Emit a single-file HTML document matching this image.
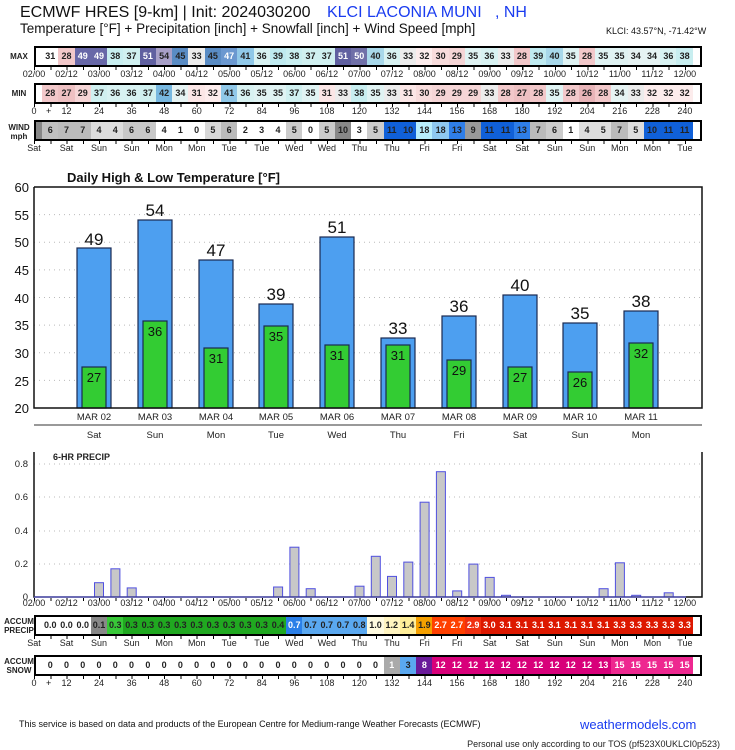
<!DOCTYPE html>
<html><head><meta charset="utf-8"><style>
*{margin:0;padding:0}
body{width:735px;height:750px;background:#fff;position:relative;overflow:hidden;font-family:"Liberation Sans",sans-serif;color:#111}
.a{position:absolute;white-space:nowrap}
.r{position:absolute;left:34px;width:668px;height:21px;border:2px solid #000;box-sizing:border-box;display:flex;padding-left:6.1px;background:#fff}
.r i{font-style:normal;width:16.275px;flex:none;text-align:center;font-weight:bold;font-size:9px;line-height:17px;color:#222}
.w{color:#fff!important}
.l{position:absolute;left:17.7px;display:flex;font-size:9px;line-height:10px;color:#222}
.l span{width:32.55px;flex:none;text-align:center}
.t{position:absolute;left:34px;width:652px;height:3px;background:repeating-linear-gradient(to right,#000 0 1px,transparent 1px 16.275px)}
.lab{position:absolute;font-size:8px;font-weight:bold;line-height:9px;text-align:center;color:#222}
</style></head><body>
<div class="a" style="left:20px;top:4px;font-size:16px">ECMWF HRES [9-km] | Init: 2024030200 <span style="color:#1a3cf0;margin-left:12px">KLCI LACONIA MUNI &nbsp;&nbsp;, NH</span></div>
<div class="a" style="left:20px;top:21px;font-size:13.5px">Temperature [°F] + Precipitation [inch] + Snowfall [inch] + Wind Speed [mph]</div>
<div class="a" style="left:606px;top:26px;font-size:9px">KLCI: 43.57°N, -71.42°W</div>

<div class="lab" style="left:8px;top:52px;width:22px">MAX</div>
<div class="r" style="top:46px">
<i>31</i><i style="background:#f2c8ca">28</i><i class="w" style="background:#6868a8">49</i><i class="w" style="background:#6868a8">49</i><i style="background:#c8eef0">38</i><i style="background:#d0f0f0">37</i><i class="w" style="background:#6060a0">51</i><i style="background:#a8a0c8">54</i><i style="background:#5a8cc4">45</i><i style="background:#ececec">33</i><i style="background:#5a8cc4">45</i><i class="w" style="background:#6b98d0">47</i><i style="background:#90c8e8">41</i><i style="background:#d8f2f2">36</i><i style="background:#bfeaf0">39</i><i style="background:#c8eef0">38</i><i style="background:#d0f0f0">37</i><i style="background:#d0f0f0">37</i><i class="w" style="background:#6060a0">51</i><i class="w" style="background:#7070a8">50</i><i style="background:#a8d8ea">40</i><i style="background:#d8f2f2">36</i><i style="background:#ececec">33</i><i style="background:#fcecec">32</i><i style="background:#f8dcdc">30</i><i style="background:#f5d5d6">29</i><i style="background:#e0f3f3">35</i><i style="background:#d8f2f2">36</i><i style="background:#ececec">33</i><i style="background:#f2c8ca">28</i><i style="background:#bfeaf0">39</i><i style="background:#a8d8ea">40</i><i style="background:#e0f3f3">35</i><i style="background:#f2c8ca">28</i><i style="background:#e0f3f3">35</i><i style="background:#e0f3f3">35</i><i style="background:#e6f3f3">34</i><i style="background:#e6f3f3">34</i><i style="background:#d8f2f2">36</i><i style="background:#c8eef0">38</i></div>
<div class="t" style="top:67px"></div>
<div class="l" style="top:69px"><span>02/00</span><span>02/12</span><span>03/00</span><span>03/12</span><span>04/00</span><span>04/12</span><span>05/00</span><span>05/12</span><span>06/00</span><span>06/12</span><span>07/00</span><span>07/12</span><span>08/00</span><span>08/12</span><span>09/00</span><span>09/12</span><span>10/00</span><span>10/12</span><span>11/00</span><span>11/12</span><span>12/00</span></div>

<div class="lab" style="left:8px;top:89px;width:22px">MIN</div>
<div class="r" style="top:83px">
<i style="background:#f2c8ca">28</i><i style="background:#eec0c2">27</i><i style="background:#f5d5d6">29</i><i style="background:#d0f0f0">37</i><i style="background:#d8f2f2">36</i><i style="background:#d8f2f2">36</i><i style="background:#d0f0f0">37</i><i style="background:#78b8e0">42</i><i style="background:#e6f3f3">34</i><i style="background:#fbe6e6">31</i><i style="background:#fcecec">32</i><i style="background:#90c8e8">41</i><i style="background:#d8f2f2">36</i><i style="background:#e0f3f3">35</i><i style="background:#e0f3f3">35</i><i style="background:#d0f0f0">37</i><i style="background:#e0f3f3">35</i><i style="background:#fbe6e6">31</i><i style="background:#ececec">33</i><i style="background:#c8eef0">38</i><i style="background:#e0f3f3">35</i><i style="background:#ececec">33</i><i style="background:#fbe6e6">31</i><i style="background:#f8dcdc">30</i><i style="background:#f5d5d6">29</i><i style="background:#f5d5d6">29</i><i style="background:#f5d5d6">29</i><i style="background:#ececec">33</i><i style="background:#f2c8ca">28</i><i style="background:#eec0c2">27</i><i style="background:#f2c8ca">28</i><i style="background:#e0f3f3">35</i><i style="background:#f2c8ca">28</i><i style="background:#e8b4b8">26</i><i style="background:#f2c8ca">28</i><i style="background:#e6f3f3">34</i><i style="background:#ececec">33</i><i style="background:#fcecec">32</i><i style="background:#fcecec">32</i><i style="background:#fcecec">32</i></div>
<div class="t" style="top:104px"></div>
<div class="l" style="top:106px"><span>0</span><span>12</span><span>24</span><span>36</span><span>48</span><span>60</span><span>72</span><span>84</span><span>96</span><span>108</span><span>120</span><span>132</span><span>144</span><span>156</span><span>168</span><span>180</span><span>192</span><span>204</span><span>216</span><span>228</span><span>240</span></div>
<div class="a" style="left:46px;top:106px;font-size:9px">+</div>

<div class="lab" style="left:6px;top:123px;width:26px">WIND<br>mph</div>
<div class="r" style="top:120px;background:linear-gradient(to right,#888 8px,#fff 8px)">
<i style="background:#c0c0c0">6</i><i style="background:#bbb">7</i><i style="background:#bbb">7</i><i style="background:#ddd">4</i><i style="background:#ddd">4</i><i style="background:#c8c8c8">6</i><i style="background:#c8c8c8">6</i><i style="background:#fff">4</i><i style="background:#fff">1</i><i style="background:#fff">0</i><i style="background:#d8d8d8">5</i><i style="background:#bbb">6</i><i style="background:#fff">2</i><i style="background:#fff">3</i><i style="background:#fff">4</i><i style="background:#ccc">5</i><i style="background:#fff">0</i><i style="background:#ccc">5</i><i style="background:#888">10</i><i style="background:#fff">3</i><i style="background:#ccc">5</i><i style="background:#1060d8">11</i><i style="background:#1060d8">10</i><i style="background:#b8eefc">18</i><i style="background:#8ec8f0">18</i><i style="background:#2f7ee8">13</i><i style="background:#999">9</i><i style="background:#1060d8">11</i><i style="background:#1060d8">11</i><i style="background:#2f7ee8">13</i><i style="background:#bbb">7</i><i style="background:#ccc">6</i><i style="background:#fff">1</i><i style="background:#ddd">4</i><i style="background:#ddd">5</i><i style="background:#bbb">7</i><i style="background:#ddd">5</i><i style="background:#1060d8">10</i><i style="background:#1060d8">11</i><i style="background:#1060d8">11</i></div>
<div class="t" style="top:141px"></div>
<div class="l" style="top:143px"><span>Sat</span><span>Sat</span><span>Sun</span><span>Sun</span><span>Mon</span><span>Mon</span><span>Tue</span><span>Tue</span><span>Wed</span><span>Wed</span><span>Thu</span><span>Thu</span><span>Fri</span><span>Fri</span><span>Sat</span><span>Sat</span><span>Sun</span><span>Sun</span><span>Mon</span><span>Mon</span><span>Tue</span></div>

<svg class="a" style="left:0;top:0" width="735" height="750" font-family="Liberation Sans, sans-serif">
<text x="67" y="182" font-size="13" font-weight="bold" fill="#111">Daily High &amp; Low Temperature [°F]</text>
<g stroke="#bbb" stroke-dasharray="1,4" stroke-width="1">
<line x1="34" x2="702" y1="214.6" y2="214.6"/><line x1="34" x2="702" y1="242.3" y2="242.3"/><line x1="34" x2="702" y1="269.9" y2="269.9"/><line x1="34" x2="702" y1="297.5" y2="297.5"/><line x1="34" x2="702" y1="325.1" y2="325.1"/><line x1="34" x2="702" y1="352.8" y2="352.8"/><line x1="34" x2="702" y1="380.4" y2="380.4"/>
</g>
<g font-size="13" fill="#111" text-anchor="end">
<text x="29" y="192">60</text><text x="29" y="220">55</text><text x="29" y="247">50</text><text x="29" y="275">45</text><text x="29" y="303">40</text><text x="29" y="330">35</text><text x="29" y="358">30</text><text x="29" y="386">25</text><text x="29" y="413">20</text>
</g>
<g stroke="#1a2a50" stroke-width="1.2">
<rect x="77" y="248" width="34" height="160" fill="#4d9ff0"/><rect x="82" y="367" width="24" height="41" fill="#33cc33"/>
<rect x="138" y="220" width="34" height="188" fill="#4d9ff0"/><rect x="143" y="321" width="24" height="87" fill="#33cc33"/>
<rect x="199" y="260" width="34" height="148" fill="#4d9ff0"/><rect x="204" y="348" width="24" height="60" fill="#33cc33"/>
<rect x="259" y="304" width="34" height="104" fill="#4d9ff0"/><rect x="264" y="326" width="24" height="82" fill="#33cc33"/>
<rect x="320" y="237" width="34" height="171" fill="#4d9ff0"/><rect x="325" y="345" width="24" height="63" fill="#33cc33"/>
<rect x="381" y="338" width="34" height="70" fill="#4d9ff0"/><rect x="386" y="345" width="24" height="63" fill="#33cc33"/>
<rect x="442" y="316" width="34" height="92" fill="#4d9ff0"/><rect x="447" y="360" width="24" height="48" fill="#33cc33"/>
<rect x="503" y="295" width="34" height="113" fill="#4d9ff0"/><rect x="508" y="367" width="24" height="41" fill="#33cc33"/>
<rect x="563" y="323" width="34" height="85" fill="#4d9ff0"/><rect x="568" y="372" width="24" height="36" fill="#33cc33"/>
<rect x="624" y="311" width="34" height="97" fill="#4d9ff0"/><rect x="629" y="343" width="24" height="65" fill="#33cc33"/>
</g>
<g font-size="17" text-anchor="middle" fill="#111">
<text x="94" y="245">49</text><text x="155" y="216">54</text><text x="216" y="256">47</text><text x="276" y="300">39</text><text x="337" y="233">51</text><text x="398" y="334">33</text><text x="459" y="312">36</text><text x="520" y="291">40</text><text x="580" y="319">35</text><text x="641" y="307">38</text>
</g>
<g font-size="13" text-anchor="middle" fill="#111">
<text x="94" y="382">27</text><text x="155" y="336">36</text><text x="216" y="363">31</text><text x="276" y="341">35</text><text x="337" y="360">31</text><text x="398" y="360">31</text><text x="459" y="375">29</text><text x="520" y="382">27</text><text x="580" y="387">26</text><text x="641" y="358">32</text>
</g>
<path d="M34 187V408H702V187H34" fill="none" stroke="#111" stroke-width="1.5"/>
<line x1="34" x2="702" y1="425" y2="425" stroke="#333"/>
<g font-size="9.5" text-anchor="middle" fill="#222">
<text x="94" y="420">MAR 02</text><text x="155" y="420">MAR 03</text><text x="216" y="420">MAR 04</text><text x="276" y="420">MAR 05</text><text x="337" y="420">MAR 06</text><text x="398" y="420">MAR 07</text><text x="459" y="420">MAR 08</text><text x="520" y="420">MAR 09</text><text x="580" y="420">MAR 10</text><text x="641" y="420">MAR 11</text>
<text x="94" y="438">Sat</text><text x="155" y="438">Sun</text><text x="216" y="438">Mon</text><text x="276" y="438">Tue</text><text x="337" y="438">Wed</text><text x="398" y="438">Thu</text><text x="459" y="438">Fri</text><text x="520" y="438">Sat</text><text x="580" y="438">Sun</text><text x="641" y="438">Mon</text>
</g>

<!-- precip chart -->
<g stroke="#bbb" stroke-dasharray="1,4"><line x1="34" x2="702" y1="564" y2="564"/><line x1="34" x2="702" y1="531" y2="531"/><line x1="34" x2="702" y1="497" y2="497"/><line x1="34" x2="702" y1="464" y2="464"/></g>
<g font-size="9.5" text-anchor="end" fill="#222"><text x="28" y="600">0</text><text x="28" y="567">0.2</text><text x="28" y="534">0.4</text><text x="28" y="500">0.6</text><text x="28" y="467">0.8</text></g>
<text x="53" y="460" font-size="9" font-weight="bold" fill="#222">6-HR PRECIP</text>
<g fill="#c8c8c8" stroke="#5050e0" stroke-width="1">
<rect x="94.5" y="582.7" width="9" height="14.3"/><rect x="110.9" y="568.8" width="9" height="28.2"/><rect x="127.2" y="587.9" width="9" height="9.1"/><rect x="273.6" y="587" width="9" height="10"/><rect x="289.9" y="547.2" width="9" height="49.8"/><rect x="306.2" y="588.7" width="9" height="8.3"/><rect x="355" y="586.2" width="9" height="10.8"/><rect x="371.3" y="556.3" width="9" height="40.7"/><rect x="387.5" y="576.4" width="9" height="20.6"/><rect x="403.8" y="562.1" width="9" height="34.9"/><rect x="420.1" y="502.2" width="9" height="94.8"/><rect x="436.4" y="471.7" width="9" height="125.3"/><rect x="452.7" y="590.9" width="9" height="6.1"/><rect x="468.9" y="564.1" width="9" height="32.9"/><rect x="485.2" y="577.4" width="9" height="19.6"/><rect x="501.5" y="595.3" width="9" height="1.7"/><rect x="599.1" y="588.7" width="9" height="8.3"/><rect x="615.4" y="562.8" width="9" height="34.2"/><rect x="631.7" y="595.3" width="9" height="1.7"/><rect x="664.2" y="592.8" width="9" height="4.2"/>
</g>
<path d="M34 452V597H702V452" fill="none" stroke="#111" stroke-width="1.5"/>
<line x1="34" x2="686" y1="597" y2="597" stroke="#5050e0" stroke-width="1"/>

<text x="19" y="727" font-size="9" fill="#111">This service is based on data and products of the European Centre for Medium-range Weather Forecasts (ECMWF)</text>
<text x="580" y="729" font-size="13" fill="#1a3cf0">weathermodels.com</text>
<text x="720" y="747" font-size="9" fill="#222" text-anchor="end">Personal use only according to our TOS (pf523X0UKLCI0p523)</text>
</svg>

<div class="t" style="top:598px"></div>
<div class="l" style="top:598px"><span>02/00</span><span>02/12</span><span>03/00</span><span>03/12</span><span>04/00</span><span>04/12</span><span>05/00</span><span>05/12</span><span>06/00</span><span>06/12</span><span>07/00</span><span>07/12</span><span>08/00</span><span>08/12</span><span>09/00</span><span>09/12</span><span>10/00</span><span>10/12</span><span>11/00</span><span>11/12</span><span>12/00</span></div>

<div class="lab" style="left:3px;top:617px;width:32px">ACCUM<br>PRECIP</div>
<div class="r" style="top:615px">
<i>0.0</i><i>0.0</i><i>0.0</i><i style="background:#888">0.1</i><i style="background:#38c838">0.3</i><i style="background:#20a820">0.3</i><i style="background:#20a820">0.3</i><i style="background:#20a820">0.3</i><i style="background:#20a820">0.3</i><i style="background:#20a820">0.3</i><i style="background:#20a820">0.3</i><i style="background:#20a820">0.3</i><i style="background:#20a820">0.3</i><i style="background:#20a820">0.3</i><i style="background:#20a820">0.4</i><i class="w" style="background:#2a7fe8">0.7</i><i style="background:#5aa8f0">0.7</i><i style="background:#5aa8f0">0.7</i><i style="background:#5aa8f0">0.7</i><i style="background:#5aa8f0">0.8</i><i style="background:#fffbe0">1.0</i><i style="background:#fff4c0">1.2</i><i style="background:#ffee99">1.4</i><i style="background:#f5a000">1.9</i><i class="w" style="background:#ff4000">2.7</i><i class="w" style="background:#ff4000">2.7</i><i class="w" style="background:#f03010">2.9</i><i class="w" style="background:#dd1800">3.0</i><i class="w" style="background:#dd1800">3.1</i><i class="w" style="background:#dd1800">3.1</i><i class="w" style="background:#dd1800">3.1</i><i class="w" style="background:#dd1800">3.1</i><i class="w" style="background:#dd1800">3.1</i><i class="w" style="background:#dd1800">3.1</i><i class="w" style="background:#dd1800">3.1</i><i class="w" style="background:#dd1800">3.3</i><i class="w" style="background:#dd1800">3.3</i><i class="w" style="background:#dd1800">3.3</i><i class="w" style="background:#dd1800">3.3</i><i class="w" style="background:#dd1800">3.3</i></div>
<div class="t" style="top:636px"></div>
<div class="l" style="top:638px"><span>Sat</span><span>Sat</span><span>Sun</span><span>Sun</span><span>Mon</span><span>Mon</span><span>Tue</span><span>Tue</span><span>Wed</span><span>Wed</span><span>Thu</span><span>Thu</span><span>Fri</span><span>Fri</span><span>Sat</span><span>Sat</span><span>Sun</span><span>Sun</span><span>Mon</span><span>Mon</span><span>Tue</span></div>

<div class="lab" style="left:3px;top:657px;width:32px">ACCUM<br>SNOW</div>
<div class="r" style="top:655px">
<i>0</i><i>0</i><i>0</i><i>0</i><i>0</i><i>0</i><i>0</i><i>0</i><i>0</i><i>0</i><i>0</i><i>0</i><i>0</i><i>0</i><i>0</i><i>0</i><i>0</i><i>0</i><i>0</i><i>0</i><i>0</i><i class="w" style="background:#aaa">1</i><i style="background:#5aa8f0">3</i><i class="w" style="background:#6a1a9a">8</i><i class="w" style="background:#d8007a">12</i><i class="w" style="background:#d8007a">12</i><i class="w" style="background:#d8007a">12</i><i class="w" style="background:#d8007a">12</i><i class="w" style="background:#d8007a">12</i><i class="w" style="background:#d8007a">12</i><i class="w" style="background:#d8007a">12</i><i class="w" style="background:#d8007a">12</i><i class="w" style="background:#d8007a">12</i><i class="w" style="background:#d8007a">12</i><i class="w" style="background:#d8007a">13</i><i class="w" style="background:#ee2890">15</i><i class="w" style="background:#ee2890">15</i><i class="w" style="background:#ee2890">15</i><i class="w" style="background:#ee2890">15</i><i class="w" style="background:#ee2890">15</i></div>
<div class="t" style="top:676px"></div>
<div class="l" style="top:678px"><span>0</span><span>12</span><span>24</span><span>36</span><span>48</span><span>60</span><span>72</span><span>84</span><span>96</span><span>108</span><span>120</span><span>132</span><span>144</span><span>156</span><span>168</span><span>180</span><span>192</span><span>204</span><span>216</span><span>228</span><span>240</span></div>
<div class="a" style="left:46px;top:678px;font-size:9px">+</div>
</body></html>
